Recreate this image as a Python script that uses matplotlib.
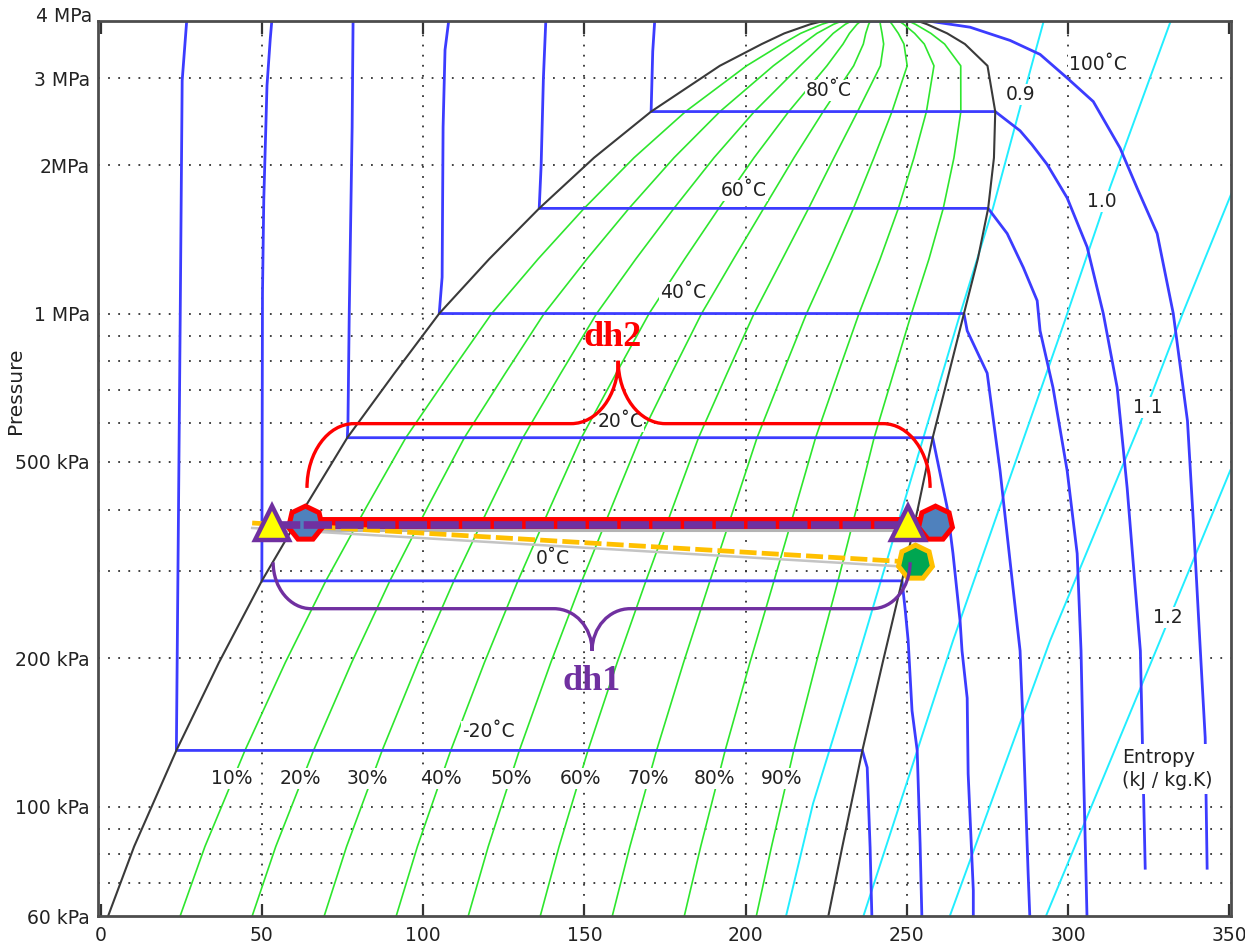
import numpy as np
import matplotlib
matplotlib.use("Agg")
import matplotlib.pyplot as plt
from matplotlib.path import Path
from matplotlib.patches import PathPatch
from matplotlib.ticker import FixedLocator, NullFormatter
from matplotlib.transforms import offset_copy

# R134a saturation table: pressure (kPa), liquid / vapour enthalpy (kJ/kg)
sat_p = [58, 83, 130, 196, 287, 405, 560, 755, 1000, 1290, 1634, 2070, 2568,
         3180, 3520, 3700, 3860, 3950, 4059]
sat_hf = [1.5, 10.4, 23.5, 36.7, 50.0, 63.4, 76.5, 91.0, 105.0, 120.5, 136.0,
          153.0, 170.7, 192.0, 205.0, 212.0, 220.0, 226.0, 239.6]
sat_hg = [225.2, 230.0, 236.2, 242.5, 248.5, 253.5, 258.0, 263.0, 267.7, 272.0,
          275.2, 277.0, 277.4, 275.0, 268.0, 262.5, 256.3, 252.0, 239.6]

# vapour quality lines
quality = [0.1, 0.2, 0.3, 0.4, 0.5, 0.6, 0.7, 0.8, 0.9]
quality_lbl = ['10%', '20%', '30%', '40%', '50%', '60%', '70%', '80%', '90%']
quality_lbl_h = [40.8, 61.9, 82.6, 105.6, 127.3, 148.7, 169.8, 190.2, 211.3]
quality_lbl_p = 114

# isotherms (liquid branch, two-phase plateau, superheated branch)
iso_lbl = ['-20˚C', '0˚C', '20˚C', '40˚C', '60˚C', '80˚C', '100˚C']
iso_h = [
    [26.8, 25.3, 24.7, 23.7, 23.5, 236.2, 237.7, 238.6, 239.2],
    [53.2, 52.6, 51.6, 50.6, 50.2, 50.0, 248.5, 249.5, 250.4, 251.6, 253.2, 254.1, 254.7],
    [78.3, 78.0, 77.1, 76.7, 76.5, 258.0, 262.5, 264.3, 266.5, 267.1, 268.7, 269.0, 270.6, 270.6],
    [108.1, 106.8, 106.2, 105.9, 105.0, 267.7, 268.7, 274.9, 278.9, 282.9, 285.1, 286.0, 287.6, 288.2],
    [138.1, 137.3, 136.6, 136.0, 275.2, 281.1, 286.1, 290.4, 291.3, 295.3, 299.7, 302.8, 304.0, 304.8, 305.9],
    [171.9, 171.2, 170.7, 277.4, 285.1, 288.8, 293.5, 299.7, 305.9, 310.9, 315.2, 318.3, 320.8, 322.4, 323.0, 323.9],
    [225.0, 257.2, 269.6, 282.0, 291.3, 299.7, 307.8, 316.1, 321.4, 327.6, 332.6, 337.0, 338.8, 341.0, 342.5, 343.1],
]
iso_p = [
    [4000, 2969, 1000, 183, 130, 130, 120, 82.6, 58],
    [4000, 3600, 2900, 1700, 1100, 287, 287, 250, 217, 156.5, 130, 84.1, 58],
    [4000, 2389, 1000, 600, 560, 560, 404, 326, 238, 207, 166, 116.6, 67.6, 58],
    [4000, 3425, 2389, 1185, 1000, 1000, 923, 757, 480, 278, 207, 148, 73.2, 58],
    [4000, 3000, 2000, 1634, 1634, 1453, 1240, 1062, 923, 708, 480, 326, 207, 116.7, 58],
    [4000, 3400, 2568, 2568, 2348, 2200, 2006, 1716, 1364, 1000, 708, 443, 278, 207, 138, 75],
    [3915, 3915, 3808, 3580, 3354, 3004, 2691, 2166, 1796, 1453, 1000, 606, 381, 207, 138, 75],
]
iso_lbl_h = [120.2, 140.3, 161.1, 180.6, 199.5, 225.9, 309.3]
iso_lbl_p = [142, 318, 604, 1103, 1777, 2834, 3200]

# isentropes, kJ/kg.K
s_lbl = ['0.9', '1.0', '1.1', '1.2']
s_h = [
    [212.0, 220.9, 235.5, 265.9, 276.7, 284.8, 292.8],
    [235.8, 264.3, 299.0, 309.9, 313.0, 332.3],
    [262.5, 294.4, 322.3, 326.4, 332.6, 335.5, 350.6],
    [292.2, 328.5, 350.3],
]
s_p = [
    [58, 101.4, 207, 968, 1637, 2572, 4000],
    [58, 217, 968, 1567, 1803, 4000],
    [58, 217, 598, 700, 893, 1000, 1750],
    [58, 217, 481],
]
s_lbl_h = [285.4, 310.5, 324.8, 331.0]
s_lbl_p = [2781, 1687, 645, 242]

# cycle states: evaporator inlet/outlet, condenser side, compressor suction
tri_h = [53.3, 250.4]
hept_h = [63.4, 258.8]
cycle_p = 376
suction_h = 252.6
suction_p = 313
orange_h0 = 47.0

# enthalpy difference braces
dh2_h = (64.0, 257.2, 160.5)
dh2_p = (443, 598, 802)
dh1_h = (53.5, 251.0, 152.4)
dh1_p = (313, 252, 207)

BLUE = '#3c3cff'
GREEN = '#2ee62e'
CYAN = '#22eeff'
TXT = '#222222'
FS = 13.5

fig = plt.figure(figsize=(12.45, 9.47), dpi=100)
ax = fig.add_axes([98 / 1245, 31 / 947, 1133 / 1245, 895 / 947])
ax.set_yscale('log')
ax.set_xlim(-0.8, 350.5)
ax.set_ylim(60, 3920)

# dotted grid
for v in [70, 80, 90, 100, 200, 300, 400, 500, 600, 700, 800, 900, 1000, 2000, 3000]:
    ax.axhline(v, color='#333333', lw=1.3, ls=(0, (1, 4.6)), zorder=1)
for v in [50, 100, 150, 200, 250, 300]:
    ax.axvline(v, color='#333333', lw=1.3, ls=(0, (1, 4.6)), zorder=1)

# quality lines
hf = np.array(sat_hf)
hg = np.array(sat_hg)
for q in quality:
    ax.plot(hf + q * (hg - hf), sat_p, color=GREEN, lw=1.2, zorder=2)

# isentropes
for h, p in zip(s_h, s_p):
    ax.plot(h, p, color=CYAN, lw=1.4, zorder=2)

# isotherms
for h, p in zip(iso_h, iso_p):
    ax.plot(h, p, color=BLUE, lw=2.0, zorder=3)

# saturation dome
ax.plot(sat_hf + sat_hg[::-1], sat_p + sat_p[::-1], color='#3a3a3a', lw=1.5, zorder=3.5)

lbl_box = dict(facecolor='white', edgecolor='none', pad=1.0)
for t, h in zip(quality_lbl, quality_lbl_h):
    ax.text(h, quality_lbl_p, t, ha='center', va='center', fontsize=FS, color=TXT,
            bbox=lbl_box, zorder=4)
for t, h, p in zip(iso_lbl, iso_lbl_h, iso_lbl_p):
    ax.text(h, p, t, ha='center', va='center', fontsize=FS, color=TXT, bbox=lbl_box, zorder=4)
for t, h, p in zip(s_lbl, s_lbl_h, s_lbl_p):
    ax.text(h, p, t, ha='center', va='center', fontsize=FS, color=TXT, bbox=lbl_box, zorder=4)
ax.text(316.8, 119, 'Entropy\n(kJ / kg.K)', ha='left', va='center', fontsize=FS,
        color=TXT, linespacing=1.25, bbox=dict(facecolor='white', edgecolor='none', pad=3), zorder=4)

# cycle overlay
shadow_purple = offset_copy(ax.transData, fig=fig, x=-2, y=-7, units='dots')
shadow_orange = offset_copy(ax.transData, fig=fig, x=0, y=-5, units='dots')
purple_off = offset_copy(ax.transData, fig=fig, x=0, y=-2, units='dots')

ax.plot(tri_h, [cycle_p, cycle_p], color='#b4b4b4', lw=2.2, transform=shadow_purple, zorder=5)
ax.plot([orange_h0, suction_h], [cycle_p, suction_p], color='#c4c4c4', lw=1.8,
        transform=shadow_orange, zorder=5)
ax.plot(hept_h, [cycle_p, cycle_p], color='#ff0000', lw=8.6, solid_capstyle='butt', zorder=6)
ax.plot([orange_h0, suction_h], [cycle_p, suction_p], color='#ffc000', lw=3.4,
        dashes=(3.6, 1.1), zorder=6)
ax.plot(hept_h, [cycle_p, cycle_p], ls='none', marker=(7, 0, 0), ms=25,
        mfc='#4f81bd', mec='#ff0000', mew=3.6, zorder=7)
ax.plot([suction_h], [suction_p], ls='none', marker=(7, 0, 0), ms=25,
        mfc='#00a651', mec='#ffc000', mew=3.6, zorder=7)
ax.plot(tri_h, [cycle_p, cycle_p], color='#7030a0', lw=5.5, dashes=(3.7, 0.45),
        solid_capstyle='butt', transform=purple_off, zorder=8)
ax.plot(tri_h, [cycle_p, cycle_p], ls='none', marker='^', ms=24,
        mfc='#ffff00', mec='#7030a0', mew=3.2, zorder=9)


def brace(hs, ps, w, color):
    h0, h1, htip = hs
    p_end, p_bar, p_tip = ps
    k = 0.5523

    def mid(pa, pb, f):
        return pa ** (1 - f) * pb ** f

    verts = [
        (h0, p_end),
        (h0, mid(p_end, p_bar, k)), (h0 + w * (1 - k), p_bar), (h0 + w, p_bar),
        (htip - w, p_bar),
        (htip - w * (1 - k), p_bar), (htip, mid(p_tip, p_bar, k)), (htip, p_tip),
        (htip, mid(p_tip, p_bar, k)), (htip + w * (1 - k), p_bar), (htip + w, p_bar),
        (h1 - w, p_bar),
        (h1 - w * (1 - k), p_bar), (h1, mid(p_end, p_bar, k)), (h1, p_end),
    ]
    codes = ([Path.MOVETO] + [Path.CURVE4] * 3 + [Path.LINETO] + [Path.CURVE4] * 6
             + [Path.LINETO] + [Path.CURVE4] * 3)
    ax.add_patch(PathPatch(Path(verts, codes), facecolor='none', edgecolor=color,
                           lw=2.4, zorder=10))


brace(dh2_h, dh2_p, 14.6, '#ff0000')
brace(dh1_h, dh1_p, 11.8, '#7030a0')
ax.text(158.9, 861, 'dh2', ha='center', va='baseline', fontsize=26, fontweight='bold',
        family='Liberation Serif', color='#ff0000', zorder=11)
ax.text(152.4, 172, 'dh1', ha='center', va='baseline', fontsize=26, fontweight='bold',
        family='Liberation Serif', color='#7030a0', zorder=11)

# axes styling
for sp in ax.spines.values():
    sp.set_color('#4d4d4d')
    sp.set_linewidth(2.0)
    sp.set_zorder(12)

ax.set_xticks([0, 50, 100, 150, 200, 250, 300, 350])
ax.set_xticklabels(['0', '50', '100', '150', '200', '250', '300', '350'])
ax.tick_params(axis='x', which='major', direction='in', length=9, width=1.6,
               top=True, bottom=True, labelsize=FS, labelcolor=TXT, pad=7, color='#333333')

ax.set_yticks([60, 100, 200, 500, 1000, 2000, 3000])
ax.set_yticklabels(['60 kPa', '100 kPa', '200 kPa', '500 kPa', '1 MPa', '2MPa', '3 MPa'])
ax.yaxis.set_minor_locator(FixedLocator([100, 1000]))
ax.yaxis.set_minor_formatter(NullFormatter())
ax.tick_params(axis='y', which='major', length=0, labelsize=FS, labelcolor=TXT, pad=6)
ax.tick_params(axis='y', which='minor', direction='in', length=11, width=2.4,
               left=True, right=True, color='#4d4d4d')
ax.annotate('4 MPa', xy=(0, 4000), xycoords=('axes fraction', 'data'), xytext=(-6, 0),
            textcoords='offset pixels', ha='right', va='center', fontsize=FS, color=TXT,
            annotation_clip=False)

ax.set_ylabel('Pressure', fontsize=14.5, color=TXT)
ax.yaxis.set_label_coords(-0.064, 0.587)

fig.savefig('out.png', dpi=100)
